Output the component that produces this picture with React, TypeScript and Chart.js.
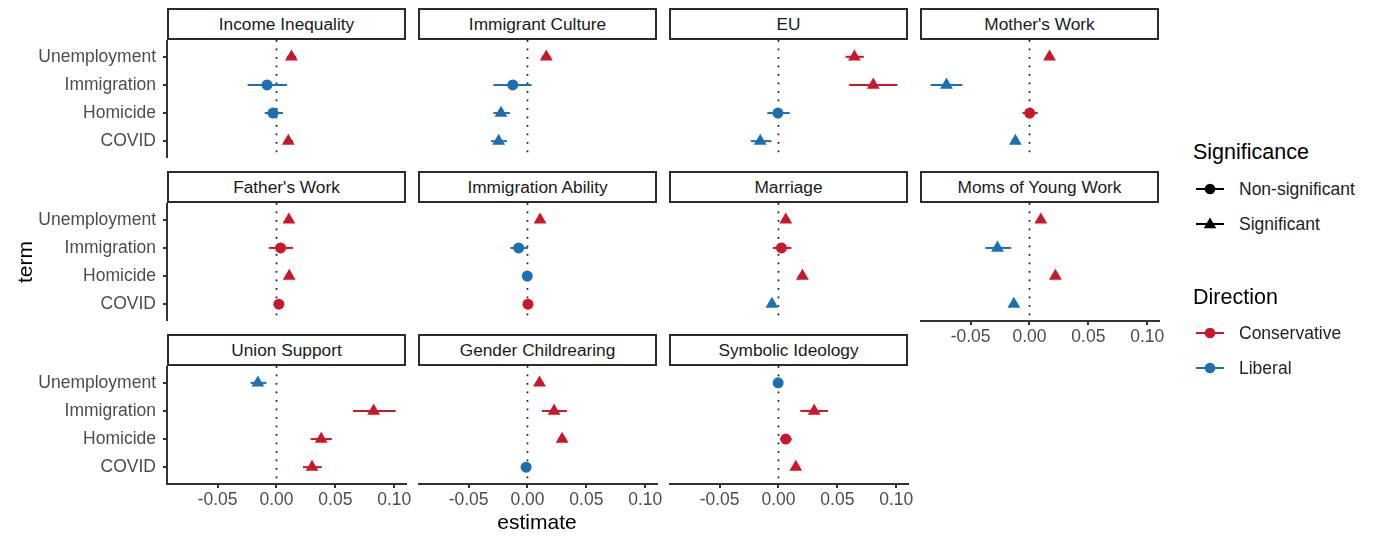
import React, { useEffect, useRef } from "react";
import { Chart, registerables } from "chart.js";
Chart.register(...registerables);

// ---------------- data ----------------
const TERMS = ["Unemployment", "Immigration", "Homicide", "COVID"];
const PANELS = [
  "Income Inequality", "Immigrant Culture", "EU", "Mother's Work",
  "Father's Work", "Immigration Ability", "Marriage", "Moms of Young Work",
  "Union Support", "Gender Childrearing", "Symbolic Ideology",
];
const X_TICKS = [-0.05, 0, 0.05, 0.1];

// one row per panel, values in TERMS order
const ESTIMATE = [
  [0.0127, -0.0080, -0.0030, 0.0100],
  [0.0160, -0.0125, -0.0225, -0.0245],
  [0.0645, 0.0805, -0.0005, -0.0155],
  [0.0170, -0.0705, 0.0002, -0.0120],
  [0.0105, 0.0035, 0.0108, 0.0020],
  [0.0107, -0.0075, -0.0002, 0.0004],
  [0.0062, 0.0025, 0.0203, -0.0056],
  [0.0096, -0.0272, 0.0220, -0.0133],
  [-0.0158, 0.0825, 0.0380, 0.0302],
  [0.0102, 0.0226, 0.0294, -0.0012],
  [-0.0003, 0.0303, 0.0062, 0.0147],
];
const CI_LOW = [
  [0.0090, -0.0245, -0.0100, 0.0065],
  [0.0125, -0.0290, -0.0290, -0.0310],
  [0.0570, 0.0600, -0.0095, -0.0235],
  [0.0140, -0.0840, -0.0060, -0.0150],
  [0.0075, -0.0065, 0.0078, -0.0005],
  [0.0075, -0.0145, -0.0030, -0.0022],
  [0.0030, -0.0048, 0.0170, -0.0088],
  [0.0065, -0.0375, 0.0188, -0.0165],
  [-0.0220, 0.0650, 0.0290, 0.0225],
  [0.0070, 0.0122, 0.0262, -0.0040],
  [-0.0030, 0.0185, 0.0014, 0.0115],
];
const CI_HIGH = [
  [0.0165, 0.0090, 0.0055, 0.0140],
  [0.0195, 0.0035, -0.0150, -0.0175],
  [0.0725, 0.1010, 0.0095, -0.0060],
  [0.0200, -0.0570, 0.0070, -0.0090],
  [0.0135, 0.0140, 0.0138, 0.0045],
  [0.0140, 0.0003, 0.0026, 0.0030],
  [0.0095, 0.0110, 0.0235, -0.0025],
  [0.0128, -0.0155, 0.0252, -0.0100],
  [-0.0085, 0.1012, 0.0470, 0.0385],
  [0.0135, 0.0335, 0.0326, 0.0016],
  [0.0024, 0.0420, 0.0112, 0.0180],
];
// 1 = Significant, 0 = Non-significant
const SIGNIFICANT = [
  [1, 0, 0, 1],
  [1, 0, 1, 1],
  [1, 1, 0, 1],
  [1, 1, 0, 1],
  [1, 0, 1, 0],
  [1, 0, 0, 0],
  [1, 0, 1, 1],
  [1, 1, 1, 1],
  [1, 1, 1, 1],
  [1, 1, 1, 0],
  [0, 1, 0, 1],
];
// C = Conservative, L = Liberal
const DIRECTION = [
  ["C", "L", "L", "C"],
  ["C", "L", "L", "L"],
  ["C", "C", "L", "L"],
  ["C", "L", "C", "L"],
  ["C", "C", "C", "C"],
  ["C", "L", "L", "C"],
  ["C", "C", "C", "L"],
  ["C", "L", "C", "L"],
  ["L", "C", "C", "C"],
  ["C", "C", "C", "L"],
  ["L", "C", "C", "C"],
];

// ---------------- style / layout ----------------
const RED = "#C9182A";
const BLUE = "#1B6FB2";
const AXIS = "#333333";
const FONT = "'Liberation Sans', Arial, Helvetica, sans-serif";
const X_MIN = -0.093;
const X_MAX = 0.11;
const Y_MIN = -0.6;
const Y_MAX = 3.6;
const COL_LEFT = [167, 418, 669, 920];
const ROW_TOP = [40, 203, 366];
const PLOT_W = 239;
const PLOT_H = 118;
const STRIP_H = 32;
const X_AXIS_H = 30;
const PAD_R = 24;

Chart.defaults.font.family = FONT;

function Panel({ p }: { p: number }) {
  const ref = useRef<HTMLCanvasElement>(null);
  const row = Math.floor(p / 4);
  const col = p % 4;
  const hasY = col === 0;
  const hasX = row === 2 || p === 7;
  const yAxisW = COL_LEFT[0];
  const left = hasY ? 0 : COL_LEFT[col];
  const width = (hasY ? yAxisW : 0) + PLOT_W + PAD_R;
  const height = PLOT_H + (hasX ? X_AXIS_H : 0);

  useEffect(() => {
    if (!ref.current) return;
    const colorOf = (d: string) => (d === "C" ? RED : BLUE);
    const colors = DIRECTION[p].map(colorOf);
    const datasets: any[] = [];
    TERMS.forEach((_, i) => {
      datasets.push({
        type: "line",
        data: [
          { x: CI_LOW[p][i], y: i },
          { x: CI_HIGH[p][i], y: i },
        ],
        borderColor: colors[i],
        borderWidth: 2,
        pointRadius: 0,
        showLine: true,
        fill: false,
      });
    });
    datasets.push({
      type: "scatter",
      data: ESTIMATE[p].map((x, i) => ({ x, y: i })),
      pointStyle: SIGNIFICANT[p].map((s) => (s ? "triangle" : "circle")),
      pointRadius: SIGNIFICANT[p].map((s) => (s ? 7.4 : 5.5)),
      pointBackgroundColor: colors,
      pointBorderColor: colors,
      pointBorderWidth: 0,
    });
    datasets.push({
      type: "line",
      data: [
        { x: 0, y: Y_MIN },
        { x: 0, y: Y_MAX },
      ],
      borderColor: "#1a1a1a",
      borderWidth: 1.7,
      borderDash: [1.8, 6.7],
      pointRadius: 0,
      showLine: true,
      fill: false,
    });

    const tickFont = { size: 17.5, family: FONT };
    const gridCfg = {
      display: true,
      drawOnChartArea: false,
      drawTicks: true,
      tickLength: 4,
      color: AXIS,
      lineWidth: 2,
    };
    const xScale: any = {
      type: "linear",
      min: X_MIN,
      max: X_MAX,
      display: hasX,
      afterBuildTicks: (a: any) => {
        a.ticks = X_TICKS.map((v) => ({ value: v }));
      },
      afterFit: (a: any) => {
        if (hasX) a.height = X_AXIS_H;
        a.paddingLeft = 0;
        a.paddingRight = 0;
      },
      border: { display: true, color: AXIS, width: 2 },
      grid: gridCfg,
      ticks: {
        callback: (v: any) => Number(v).toFixed(2),
        color: "#4D4D4D",
        font: tickFont,
        padding: 2,
        maxRotation: 0,
        autoSkip: false,
      },
    };
    const yScale: any = {
      type: "linear",
      min: Y_MIN,
      max: Y_MAX,
      reverse: true,
      display: hasY,
      afterBuildTicks: (a: any) => {
        a.ticks = TERMS.map((_, i) => ({ value: i }));
      },
      afterFit: (a: any) => {
        if (hasY) a.width = yAxisW;
        a.paddingTop = 0;
        a.paddingBottom = 0;
      },
      border: { display: true, color: AXIS, width: 2 },
      grid: gridCfg,
      ticks: {
        callback: (v: any) => TERMS[Math.round(Number(v))],
        color: "#4D4D4D",
        font: tickFont,
        padding: 7,
        autoSkip: false,
      },
    };

    const chart = new Chart(ref.current, {
      type: "scatter",
      data: { datasets },
      options: {
        animation: false,
        responsive: false,
        devicePixelRatio: 1,
        layout: {
          autoPadding: false,
          padding: { left: 0, top: 0, bottom: 0, right: PAD_R },
        },
        plugins: { legend: { display: false }, tooltip: { enabled: false } },
        events: [],
        scales: { x: xScale, y: yScale },
      } as any,
    });
    return () => chart.destroy();
  }, []);

  return (
    <>
      <div
        style={{
          position: "absolute",
          left: COL_LEFT[col],
          top: ROW_TOP[row] - STRIP_H,
          width: PLOT_W,
          height: STRIP_H,
          boxSizing: "border-box",
          border: "2px solid #2b2b2b",
          background: "#fff",
          color: "#1A1A1A",
          fontSize: 17.3,
          lineHeight: `${STRIP_H - 4}px`,
          textAlign: "center",
          whiteSpace: "nowrap",
        }}
      >
        {PANELS[p]}
      </div>
      <canvas
        ref={ref}
        width={width}
        height={height}
        style={{ position: "absolute", left, top: ROW_TOP[row], width, height }}
      />
    </>
  );
}

function Key({ color, shape, y }: { color: string; shape: string; y: number }) {
  return (
    <svg
      width={32}
      height={18}
      style={{ position: "absolute", left: 1194, top: y - 9 }}
    >
      <line x1={2} y1={9} x2={30} y2={9} stroke={color} strokeWidth={2} />
      {shape === "circle" ? (
        <circle cx={16} cy={9} r={5.3} fill={color} />
      ) : (
        <polygon points="16,2.5 22.3,13.2 9.7,13.2" fill={color} />
      )}
    </svg>
  );
}

function LegendText({ text, y, size, color }: { text: string; y: number; size: number; color: string }) {
  return (
    <div
      style={{
        position: "absolute",
        left: size > 19 ? 1193 : 1239,
        top: y - 14,
        height: 28,
        lineHeight: "28px",
        fontSize: size,
        color,
        whiteSpace: "nowrap",
      }}
    >
      {text}
    </div>
  );
}

export default function App() {
  return (
    <div
      style={{
        position: "absolute",
        left: 0,
        top: 0,
        width: 1374,
        height: 539,
        background: "#fff",
        fontFamily: FONT,
        overflow: "hidden",
      }}
    >
      {PANELS.map((_, p) => (
        <Panel key={p} p={p} />
      ))}
      <div
        style={{
          position: "absolute",
          left: 25 - 40,
          top: 262 - 14,
          width: 80,
          height: 28,
          lineHeight: "28px",
          textAlign: "center",
          fontSize: 21,
          color: "#000",
          transform: "rotate(-90deg)",
        }}
      >
        term
      </div>
      <div
        style={{
          position: "absolute",
          left: 537 - 60,
          top: 522 - 14,
          width: 120,
          height: 28,
          lineHeight: "28px",
          textAlign: "center",
          fontSize: 21,
          color: "#000",
        }}
      >
        estimate
      </div>
      <LegendText text="Significance" y={152} size={21.5} color="#000" />
      <Key color="#000" shape="circle" y={189} />
      <LegendText text="Non-significant" y={189} size={17.5} color="#222" />
      <Key color="#000" shape="triangle" y={224} />
      <LegendText text="Significant" y={224} size={17.5} color="#222" />
      <LegendText text="Direction" y={297} size={21.5} color="#000" />
      <Key color={RED} shape="circle" y={333} />
      <LegendText text="Conservative" y={333} size={17.5} color="#222" />
      <Key color={BLUE} shape="circle" y={368} />
      <LegendText text="Liberal" y={368} size={17.5} color="#222" />
    </div>
  );
}
